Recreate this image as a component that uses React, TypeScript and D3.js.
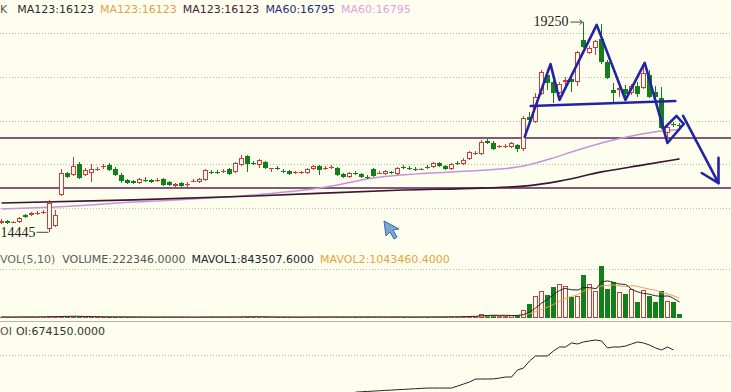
import React from 'react';
import * as d3 from 'd3';

// one row per bar: [open, close, high, low]
const candles: number[][] = [
	[14660, 14700, 14750, 14635], [14700, 14655, 14725, 14635], [14670, 14690, 14705, 14655], [14680, 14770, 14795, 14655],
	[14840, 14795, 14865, 14770], [14840, 14875, 14910, 14815], [14865, 14895, 14930, 14840], [14885, 14920, 14955, 14860],
	[14520, 15115, 15185, 14445], [14590, 14840, 14955, 14565], [15295, 15800, 15890, 15275], [15800, 15710, 15825, 15685],
	[15755, 15960, 16165, 15730], [16005, 15685, 16050, 15665], [15755, 15870, 15915, 15730], [15800, 15890, 16005, 15595],
	[15870, 15890, 15935, 15845], [15935, 15960, 16005, 15890], [15985, 15870, 16030, 15845], [15890, 15755, 15935, 15730],
	[15755, 15615, 15800, 15570], [15640, 15570, 15665, 15550], [15615, 15570, 15640, 15550], [15570, 15665, 15685, 15550],
	[15640, 15615, 15710, 15595], [15640, 15595, 15665, 15570], [15615, 15640, 15685, 15595], [15665, 15525, 15685, 15505],
	[15595, 15525, 15615, 15505], [15505, 15550, 15570, 15480], [15570, 15505, 15595, 15480], [15535, 15550, 15595, 15480],
	[15615, 15615, 15665, 15595], [15595, 15665, 15685, 15570], [15640, 15870, 15890, 15615], [15825, 15800, 15870, 15775],
	[15820, 15800, 15865, 15780], [15825, 15845, 15890, 15800], [15890, 15775, 15915, 15755], [15825, 16030, 16050, 15800],
	[15985, 16145, 16210, 15960], [16190, 16005, 16210, 15825], [16030, 16005, 16075, 15985], [15985, 16100, 16120, 15915],
	[16050, 15915, 16075, 15890], [15905, 15915, 15920, 15825], [15915, 15890, 15960, 15870], [15845, 15825, 15890, 15800],
	[15845, 15775, 15870, 15755], [15790, 15825, 15845, 15775], [15790, 15820, 15850, 15775], [15800, 15890, 15915, 15775],
	[15890, 15960, 15985, 15870], [15960, 15870, 15985, 15755], [15905, 15915, 15960, 15870], [15925, 15935, 15985, 15890],
	[15915, 15755, 15935, 15730], [15775, 15710, 15800, 15685], [15710, 15800, 15825, 15685], [15800, 15775, 15845, 15755],
	[15775, 15710, 15800, 15685], [15710, 15695, 15755, 15665], [15890, 15730, 15915, 15710], [15800, 15800, 15845, 15775],
	[15775, 15845, 15870, 15755], [15825, 15800, 15845, 15775], [15775, 15915, 15935, 15755], [15935, 15915, 15985, 15890],
	[15915, 15890, 15960, 15870], [15890, 15870, 15935, 15845], [15880, 15890, 15915, 15870], [15935, 15915, 15985, 15890],
	[15935, 16030, 16050, 15915], [16030, 15960, 16050, 15935], [15960, 15890, 15985, 15870], [15890, 16005, 16030, 15870],
	[16030, 16005, 16075, 15985], [16005, 16095, 16145, 15985], [16120, 16280, 16305, 16095], [16245, 16255, 16305, 16210],
	[16235, 16510, 16555, 16210], [16530, 16485, 16575, 16465], [16485, 16350, 16530, 16325], [16405, 16415, 16440, 16370],
	[16400, 16420, 16465, 16370], [16395, 16485, 16510, 16370], [16440, 16350, 16465, 16280], [16350, 17055, 17105, 16305],
	[17080, 17010, 17195, 16990], [16965, 17535, 17630, 16945], [17605, 18110, 18155, 17585], [18040, 17855, 18175, 17695],
	[17880, 17630, 17925, 17400], [17630, 17835, 17880, 17605], [17880, 17925, 17995, 17765], [17950, 17880, 18040, 17650],
	[17880, 18565, 18590, 17790], [18840, 18680, 19250, 18655], [18545, 18655, 18705, 18520], [18655, 18815, 18840, 18495],
	[18865, 18335, 19205, 18290], [18335, 17970, 18385, 17950], [17695, 17630, 17855, 17425], [17695, 17745, 17810, 17535],
	[17720, 17605, 17810, 17470], [17630, 17790, 17835, 17585], [17790, 17605, 17880, 17535], [17745, 18085, 18200, 17720],
	[18040, 17535, 18155, 17515], [17650, 17535, 17790, 17470], [17515, 16830, 17765, 16805], [16715, 16850, 16895, 16625],
	[16920, 16895, 16965, 16850], [16895, 16875, 16945, 16830],
];

const volumes: number[] = [
	62000, 48000, 55000, 71000, 58000, 66000, 52000, 60000, 105000, 88000,
	120000, 74000, 96000, 83000, 61000, 70000, 54000, 49000, 63000, 58000,
	67000, 52000, 45000, 57000, 50000, 48000, 53000, 62000, 55000, 47000,
	51000, 44000, 50000, 56000, 78000, 52000, 49000, 46000, 58000, 69000,
	74000, 81000, 55000, 60000, 57000, 50000, 47000, 52000, 56000, 49000,
	51000, 58000, 62000, 66000, 48000, 46000, 64000, 59000, 61000, 52000,
	57000, 49000, 72000, 53000, 55000, 50000, 68000, 54000, 52000, 56000,
	51000, 58000, 70000, 63000, 66000, 72000, 60000, 95000, 130000, 110000,
	210000, 150000, 160000, 120000, 115000, 140000, 170000, 445000, 778000, 1223000,
	1501000, 1279000, 1724000, 1890000, 1779000, 1168000, 1223000, 2391000, 1890000, 1501000,
	2891000, 1612000, 2002000, 1446000, 1334000, 1612000, 890000, 1557000, 1223000, 890000,
	1501000, 945000, 890000, 222346,
];

// open interest from bar 59 onwards (earlier values fall below the pane)
const oiFirstBar = 59;
const oiValues: number[] = [
	51000, 56000, 61000, 66000, 71000, 76000, 81000, 86000, 91000, 96000,
	101000, 106000, 111000, 111000, 111000, 111000, 111000, 140000, 170000, 200000,
	244000, 244000, 245000, 246000, 259000, 274000, 274000, 378000, 407000, 511000,
	585000, 585000, 586000, 659000, 719000, 718000, 778000, 763000, 793000, 808000,
	822000, 808000, 704000, 719000, 718000, 733000, 763000, 793000, 778000, 748000,
	704000, 674000, 719000, 674150,
];

// moving averages
const ma123Bars = [0, 22, 42, 67, 80, 87, 93, 100, 107, 113];
const ma123Values = [15115, 15185, 15275, 15410, 15455, 15500, 15615, 15825, 15985, 16123];
const ma60Bars = [0, 9, 22, 42, 53, 62, 75, 83, 87, 92, 95, 100, 105, 110, 113];
const ma60Values = [14975, 15025, 15135, 15295, 15455, 15685, 15825, 15890, 15960, 16145, 16280, 16485, 16645, 16760, 16795];

const priceTicks = [15000, 16000, 17000, 18000, 19000];
const levelLines = [16600, 15457];
const highBar = 97;
const lowBar = 8;

// hand drawn pattern, [bar, price]
const headShoulders = [[87.2, 16625], [91.5, 18290], [93, 17470], [99.2, 19185], [104, 17470], [107.2, 18315], [111, 16485], [113.7, 16920]];
const smallFlag = [[110.5, 16830], [112.5, 17105], [113.7, 16920]];
const neckline = [[88.2, 17330], [112.3, 17445]];
const bigArrow = [[113.6, 17105], [119.5, 15570]];
const arrowHead = [[116.7, 15800], [119.5, 15570], [119.5, 16145]];

const priceLegend = ['K', 'MA123:16123', 'MA123:16123', 'MA123:16123', 'MA60:16795', 'MA60:16795'];
const priceLegendColors = ['#555', '#2b2b33', '#e0a050', '#4a1a40', '#1f2a80', '#dba3e3'];
const volLegend = ['VOL(5,10)', 'VOLUME:222346.0000', 'MAVOL1:843507.6000', 'MAVOL2:1043460.4000'];
const volLegendColors = ['#666', '#555', '#1e2433', '#e8a040'];
const oiLegend = ['OI', 'OI:674150.0000'];
const oiLegendColors = ['#555', '#333'];

const bg = '#fefeee';
const red = '#d03a3a';
const green = '#12801a';

class Chart extends React.Component {
	componentDidMount() {
		this.drawChart();
	}

	drawChart() {
		const w = 731;
		const h = 392;

		const root = d3.select('#chart');
		root.selectAll('*').remove();

		const svg = root
			.append('svg')
			.attr('width', w)
			.attr('height', h)
			.style('position', 'absolute')
			.style('left', '0px')
			.style('top', '0px')
			.style('background', bg);

		const x = d3.scaleLinear().domain([0, 113]).range([1.5, 679.5]);
		const y = d3.scaleLinear().domain([15000, 19000]).range([208, 33]);
		const yVol = d3.scaleLinear().domain([0, 3000000]).range([318, 264]);
		const yOI = d3.scaleLinear().domain([600000, 822000]).range([355, 340]);

		const defs = svg.append('defs');
		defs.append('clipPath').attr('id', 'pricePane').append('rect').attr('x', 0).attr('y', 0).attr('width', w).attr('height', 246);
		defs.append('clipPath').attr('id', 'oiPane').append('rect').attr('x', 0).attr('y', 323).attr('width', w).attr('height', 69);

		// grid
		const dotted = '#bdbdaa';
		svg.selectAll('line.grid')
			.data(priceTicks)
			.enter()
			.append('line')
			.attr('x1', 0).attr('x2', w)
			.attr('y1', d => Math.round(y(d)) + 0.5)
			.attr('y2', d => Math.round(y(d)) + 0.5)
			.attr('stroke', dotted)
			.attr('stroke-dasharray', '1,2');
		svg.append('line').attr('x1', 0).attr('x2', w).attr('y1', 269.5).attr('y2', 269.5)
			.attr('stroke', dotted).attr('stroke-dasharray', '1,2');
		svg.append('line').attr('x1', 0).attr('x2', w).attr('y1', Math.round(yOI(600000)) + 0.5).attr('y2', Math.round(yOI(600000)) + 0.5)
			.attr('stroke', dotted).attr('stroke-dasharray', '1,2');
		svg.append('line').attr('x1', 0).attr('x2', w).attr('y1', 321.5).attr('y2', 321.5)
			.attr('stroke', '#bcb4a2');

		const price = svg.append('g').attr('clip-path', 'url(#pricePane)');

		// support / resistance lines
		price.selectAll('line.level')
			.data(levelLines)
			.enter()
			.append('line')
			.attr('x1', 0).attr('x2', w)
			.attr('y1', d => y(d)).attr('y2', d => y(d))
			.attr('stroke', '#5b1f4f')
			.attr('stroke-width', 1.5);

		const maLine = d3.line<number>()
			.curve(d3.curveMonotoneX);

		price.append('path')
			.attr('d', maLine.x(i => x(ma60Bars[i])).y(i => y(ma60Values[i]))(d3.range(ma60Bars.length)))
			.attr('fill', 'none')
			.attr('stroke', '#c792da')
			.attr('stroke-width', 1.5);

		price.append('path')
			.attr('d', maLine.x(i => x(ma123Bars[i])).y(i => y(ma123Values[i]))(d3.range(ma123Bars.length)))
			.attr('fill', 'none')
			.attr('stroke', '#3c1530')
			.attr('stroke-width', 1.6);

		// candles
		const cg = price.append('g').attr('shape-rendering', 'crispEdges');
		candles.forEach((d, i) => {
			const [o, c, hi, lo] = d;
			const up = c >= o;
			const col = up ? red : green;
			const cx = x(i);
			cg.append('line')
				.attr('x1', cx).attr('x2', cx)
				.attr('y1', y(hi)).attr('y2', y(lo))
				.attr('stroke', col);
			const top = Math.round(y(Math.max(o, c)));
			const bot = Math.round(y(Math.min(o, c)));
			if (bot - top < 2) {
				cg.append('line')
					.attr('x1', cx - 2.5).attr('x2', cx + 2.5)
					.attr('y1', top + 0.5).attr('y2', top + 0.5)
					.attr('stroke', col);
			} else if (up) {
				cg.append('rect')
					.attr('x', cx - 2).attr('y', top + 0.5)
					.attr('width', 4).attr('height', bot - top - 1)
					.attr('fill', bg).attr('stroke', col);
			} else {
				cg.append('rect')
					.attr('x', cx - 2.5).attr('y', top)
					.attr('width', 5).attr('height', bot - top)
					.attr('fill', col);
			}
		});

		// high / low marks
		const hx = x(highBar);
		const hy = y(candles[highBar][2]);
		price.append('line').attr('x1', hx - 13).attr('x2', hx - 1).attr('y1', hy).attr('y2', hy)
			.attr('stroke', '#444');
		price.append('path').attr('d', `M${hx - 4},${hy - 2.5}L${hx - 1},${hy}L${hx - 4},${hy + 2.5}`)
			.attr('fill', 'none').attr('stroke', '#444');
		price.append('text').attr('x', hx - 15).attr('y', hy + 4)
			.attr('text-anchor', 'end')
			.attr('font-family', 'Liberation Serif')
			.attr('font-size', '14px')
			.attr('fill', '#222')
			.text(String(candles[highBar][2]));

		const lx = x(lowBar);
		const ly = y(candles[lowBar][3]);
		price.append('line').attr('x1', lx - 13).attr('x2', lx - 1).attr('y1', ly).attr('y2', ly)
			.attr('stroke', '#444');
		price.append('text').attr('x', lx - 14).attr('y', ly + 5)
			.attr('text-anchor', 'end')
			.attr('font-family', 'Liberation Serif')
			.attr('font-size', '14px')
			.attr('fill', '#222')
			.text(String(candles[lowBar][3]));

		// hand drawn pattern
		const pen = d3.line<number[]>().x(d => x(d[0])).y(d => y(d[1]));
		[headShoulders, smallFlag, neckline, bigArrow, arrowHead].forEach(pts => {
			price.append('path')
				.attr('d', pen(pts))
				.attr('fill', 'none')
				.attr('stroke', '#2323a6')
				.attr('stroke-width', 2.6)
				.attr('stroke-linejoin', 'round')
				.attr('stroke-linecap', 'round');
		});

		// mouse pointer
		svg.append('path')
			.attr('d', 'M384,221 L386,236 L390,232 L394,239 L397,237 L393,230 L399,229 Z')
			.attr('fill', '#7aa6d8')
			.attr('stroke', '#3a6aa8')
			.attr('stroke-width', 1);

		// volume
		const vg = svg.append('g').attr('shape-rendering', 'crispEdges');
		volumes.forEach((v, i) => {
			const [o, c] = candles[i];
			const up = c >= o;
			const col = up ? red : green;
			const cx = x(i);
			const top = Math.round(yVol(v));
			const base = 318;
			const hgt = Math.max(1, base - top);
			if (up && hgt > 2) {
				vg.append('rect').attr('x', cx - 2).attr('y', base - hgt + 0.5)
					.attr('width', 4).attr('height', hgt - 1)
					.attr('fill', bg).attr('stroke', col);
			} else {
				vg.append('rect').attr('x', cx - 2.5).attr('y', base - hgt)
					.attr('width', 5).attr('height', hgt)
					.attr('fill', col);
			}
		});

		const movAvg = (n: number) => volumes.map((_, i) => {
			const part = volumes.slice(Math.max(0, i - n + 1), i + 1);
			return d3.mean(part) as number;
		});
		const volLine = d3.line<number>().x((_, i) => x(i)).y(d => yVol(d)).curve(d3.curveMonotoneX);
		svg.append('path').attr('d', volLine(movAvg(10)))
			.attr('fill', 'none').attr('stroke', '#e8a050').attr('stroke-width', 1);
		svg.append('path').attr('d', volLine(movAvg(5)))
			.attr('fill', 'none').attr('stroke', '#1e2433').attr('stroke-width', 1);

		// open interest
		const oiLine = d3.line<number>().x((_, i) => x(i + oiFirstBar)).y(d => yOI(d));
		svg.append('g').attr('clip-path', 'url(#oiPane)')
			.append('path')
			.attr('d', oiLine(oiValues))
			.attr('fill', 'none')
			.attr('stroke', '#222')
			.attr('stroke-width', 1);

		// legends
		const legend = (labels: string[], colors: string[], baseline: number, firstGap: number) => {
			let cursor = 0;
			labels.forEach((t, i) => {
				const node = svg.append('text')
					.attr('x', cursor)
					.attr('y', baseline)
					.attr('font-family', 'DejaVu Sans')
					.attr('font-size', '11px')
					.attr('fill', colors[i])
					.text(t);
				const tw = (node.node() as SVGTextElement).getComputedTextLength();
				cursor += tw + (i === 0 ? firstGap : 6);
			});
		};
		legend(priceLegend, priceLegendColors, 13, 10);
		legend(volLegend, volLegendColors, 263, 7);
		legend(oiLegend, oiLegendColors, 335, 4);
	}

	render() {
		return (
			<div id="chart" />
		);
	}
}

export default Chart;
